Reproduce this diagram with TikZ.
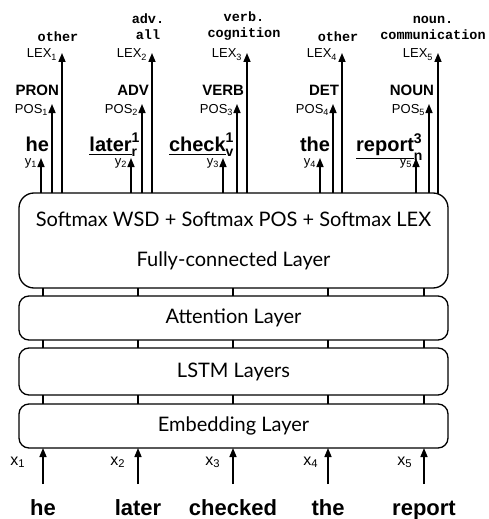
\documentclass[tikz,border=0pt]{standalone}
\usepackage{amsmath}
\usepackage{fontspec}
\usetikzlibrary{positioning,arrows.meta,backgrounds}
\setmainfont{Liberation Sans}
\newfontfamily\layerfont{Lato}
\newfontfamily\lexfont{Liberation Mono}
\newcommand{\sense}[3]{$\underline{\text{#1}}^{\text{#2}}_{\text{#3}}$}
\tikzset{
  every node/.style={inner sep=0pt, outer sep=0pt},
  layer/.style={
    rectangle, rounded corners=10pt,
    draw, line width=1.3pt, fill=white,
    minimum width=429pt, align=center,
    font=\layerfont\fontsize{20}{26}\selectfont
  },
  arrow/.style={
    -{Triangle[length=9pt,width=7pt]},
    line width=1.5pt
  },
  link/.style={line width=1.3pt},
  word/.style={font=\bfseries\fontsize{22}{26}\selectfont, anchor=base},
  outword/.style={font=\bfseries\fontsize{20}{24}\selectfont, anchor=base east},
  tag/.style={font=\bfseries\fontsize{15}{18}\selectfont, anchor=base east},
  idx/.style={font=\fontsize{13}{15}\selectfont, anchor=base east},
  lexname/.style={font=\lexfont\bfseries\fontsize{13.5}{16}\selectfont, anchor=south, align=center},
}
\begin{document}
\begin{tikzpicture}[x=1pt, y=-1pt]
  \useasboundingbox (0,0) rectangle (489,519);
  % layers
  \node[layer, minimum height=95pt, rounded corners=15pt] (fc) at (233.5,240.5)
    {Softmax WSD + Softmax POS + Softmax LEX\\[14pt]Fully-connected Layer};
  \node[layer, minimum height=44pt] (att) at (233.5,318) {Attention Layer};
  \node[layer, minimum height=47pt] (lstm) at (233.5,371.5) {LSTM Layers};
  \node[layer, minimum height=44pt] (emb) at (233.5,426) {Embedding Layer};
  % inputs
  \foreach \c/\w/\xl/\i in {43/he/25/1, 138/later/125/2, 233/checked/220/3, 328/the/318/4, 424/report/412/5} {
    \node[word] (w\i) at (\c,515) {\w};
    \coordinate (in\i) at (\c,484);
    \draw[arrow] (in\i) -- (in\i |- emb.south);
    \node[idx, font=\fontsize{16}{18}\selectfont] (x\i) at (\xl,465) {x\textsubscript{\i}};
    \draw[link] (emb.north -| in\i) -- (lstm.south -| in\i);
    \draw[link] (lstm.north -| in\i) -- (att.south -| in\i);
    \draw[link] (att.north -| in\i) -- (fc.south -| in\i);
  }
  % outputs
  \foreach \yx/\px/\lx/\i in {41/52/62/1, 131/142/152/2, 223/237/247/3, 320/333/342/4, 416/429/438/5} {
    \coordinate (yt\i) at (\yx,158);
    \coordinate (pt\i) at (\px,104);
    \coordinate (lt\i) at (\lx,53);
    \begin{scope}[on background layer]
      \draw[arrow] (fc.center -| yt\i) -- (yt\i);
      \draw[arrow] (fc.center -| pt\i) -- (pt\i);
      \draw[arrow] (fc.center -| lt\i) -- (lt\i);
    \end{scope}
    \node[idx] (y\i) at (\yx-4,165) {y\textsubscript{\i}};
    \node[idx] (pos\i) at (\px-4,113) {POS\textsubscript{\i}};
    \node[idx] (lex\i) at (\lx-5,58) {LEX\textsubscript{\i}};
  }
  \node[outword] (o1) at (49,151) {he};
  \node[outword] (o2) at (140,151) {\sense{later}{1}{r}};
  \node[outword] (o3) at (234,151) {\sense{check}{1}{v}};
  \node[outword] (o4) at (330,151) {the};
  \node[outword] (o5) at (423,151) {\sense{report}{3}{n}};
  \node[tag] (t1) at (59,95) {PRON};
  \node[tag] (t2) at (149,95) {ADV};
  \node[tag] (t3) at (244,95) {VERB};
  \node[tag] (t4) at (339,95) {DET};
  \node[tag] (t5) at (434,95) {NOUN};
  \node[lexname] (s1) at (58,42) {other};
  \node[lexname] (s2) at (148,40) {adv.\\all};
  \node[lexname] (s3) at (244,40) {verb.\\cognition};
  \node[lexname] (s4) at (338,42) {other};
  \node[lexname] (s5) at (433,40) {noun.\\communication};
\end{tikzpicture}
\end{document}
